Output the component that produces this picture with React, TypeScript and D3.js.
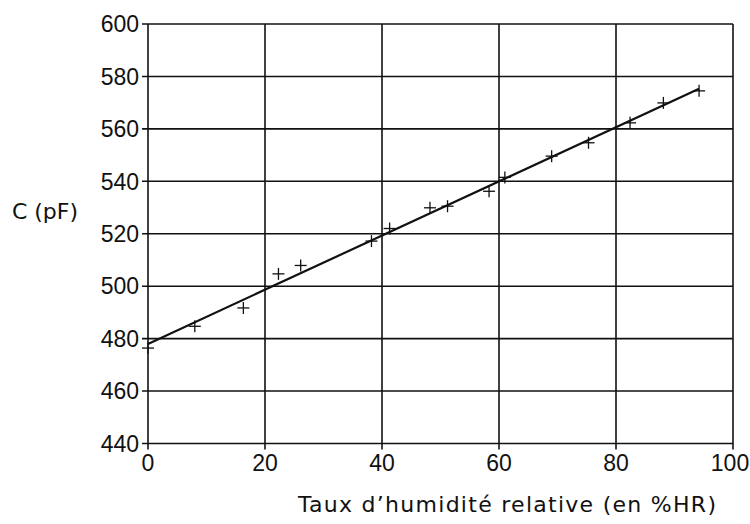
import React, { useEffect, useRef } from 'react';
import * as d3 from 'd3';

// humidité relative (%HR) et capacité mesurée (pF)
const humidity = [0, 8.0, 16.3, 22.3, 26.1, 38.2, 41.3, 48.2, 51.2, 58.3, 61.0, 69.0, 75.3, 82.4, 88.1, 94.2];
const capacity = [476.4, 484.7, 491.7, 504.7, 507.9, 517.2, 522.0, 529.9, 530.5, 536.2, 541.5, 549.6, 554.7, 562.3, 569.9, 574.5];
const xTicks = [0, 20, 40, 60, 80, 100];
const yTicks = [440, 460, 480, 500, 520, 540, 560, 580, 600];
const xTitle = 'Taux d\u2019humidité relative (en %HR)';
const yTitle = 'C (pF)';

const W = 750;
const H = 524;
const TICK_FONT = "'Liberation Sans', Arial, sans-serif";
const TITLE_FONT = "'DejaVu Sans', Verdana, sans-serif";

export default function App() {
  const ref = useRef<SVGSVGElement>(null);

  useEffect(() => {
    const svg = d3.select(ref.current);
    svg.selectAll('*').remove();

    const x = d3.scaleLinear().domain([0, 100]).range([148, 733]);
    const y = d3.scaleLinear().domain([440, 600]).range([443.5, 24]);
    const ink = '#111';

    // grille
    const grid = svg.append('g');
    grid
      .selectAll('line.h')
      .data(yTicks)
      .enter()
      .append('line')
      .attr('x1', x(0) - 6)
      .attr('x2', x(100))
      .attr('y1', (d) => y(d))
      .attr('y2', (d) => y(d))
      .attr('stroke', ink)
      .attr('stroke-width', 1.6);
    grid
      .selectAll('line.v')
      .data(xTicks)
      .enter()
      .append('line')
      .attr('x1', (d) => x(d))
      .attr('x2', (d) => x(d))
      .attr('y1', y(600))
      .attr('y2', y(440) + 6)
      .attr('stroke', ink)
      .attr('stroke-width', 1.6);

    // étiquettes des axes
    svg
      .append('g')
      .selectAll('text')
      .data(yTicks)
      .enter()
      .append('text')
      .attr('x', x(0) - 9)
      .attr('y', (d) => y(d))
      .attr('dy', '0.36em')
      .attr('text-anchor', 'end')
      .attr('font-family', TICK_FONT)
      .attr('font-size', 23)
      .attr('fill', ink)
      .text((d) => d);
    svg
      .append('g')
      .selectAll('text')
      .data(xTicks)
      .enter()
      .append('text')
      .attr('x', (d) => Math.min(x(d), W - 20))
      .attr('y', 471)
      .attr('text-anchor', 'middle')
      .attr('font-family', TICK_FONT)
      .attr('font-size', 23)
      .attr('fill', ink)
      .text((d) => d);

    // droite de régression (moindres carrés)
    const mx = d3.mean(humidity) as number;
    const my = d3.mean(capacity) as number;
    const sxy = d3.sum(humidity, (h, i) => (h - mx) * (capacity[i] - my));
    const sxx = d3.sum(humidity, (h) => (h - mx) * (h - mx));
    const slope = sxy / sxx;
    const intercept = my - slope * mx;
    const ext = d3.extent(humidity) as [number, number];
    const line = d3
      .line<number>()
      .x((d) => x(d))
      .y((d) => y(intercept + slope * d));
    svg
      .append('path')
      .datum(ext)
      .attr('d', line)
      .attr('fill', 'none')
      .attr('stroke', ink)
      .attr('stroke-width', 2.2);

    // points de mesure (+)
    const s = 6;
    const pts = svg
      .append('g')
      .selectAll('g')
      .data(humidity)
      .enter()
      .append('g')
      .attr('transform', (d, i) => `translate(${x(d)},${y(capacity[i])})`);
    pts
      .append('line')
      .attr('x1', -s)
      .attr('x2', s)
      .attr('stroke', ink)
      .attr('stroke-width', 1.3);
    pts
      .append('line')
      .attr('y1', -s)
      .attr('y2', s)
      .attr('stroke', ink)
      .attr('stroke-width', 1.3);

    // titres
    svg
      .append('text')
      .attr('x', 12)
      .attr('y', 219)
      .attr('textLength', 66)
      .attr('lengthAdjust', 'spacing')
      .attr('font-family', TITLE_FONT)
      .attr('font-size', 22)
      .attr('fill', ink)
      .text(yTitle);
    svg
      .append('text')
      .attr('x', 298)
      .attr('y', 512)
      .attr('textLength', 418)
      .attr('lengthAdjust', 'spacing')
      .attr('font-family', TITLE_FONT)
      .attr('font-size', 22)
      .attr('fill', ink)
      .text(xTitle);
  }, []);

  return (
    <svg
      ref={ref}
      width={W}
      height={H}
      style={{ position: 'absolute', left: 0, top: 0, background: '#fff' }}
    />
  );
}
